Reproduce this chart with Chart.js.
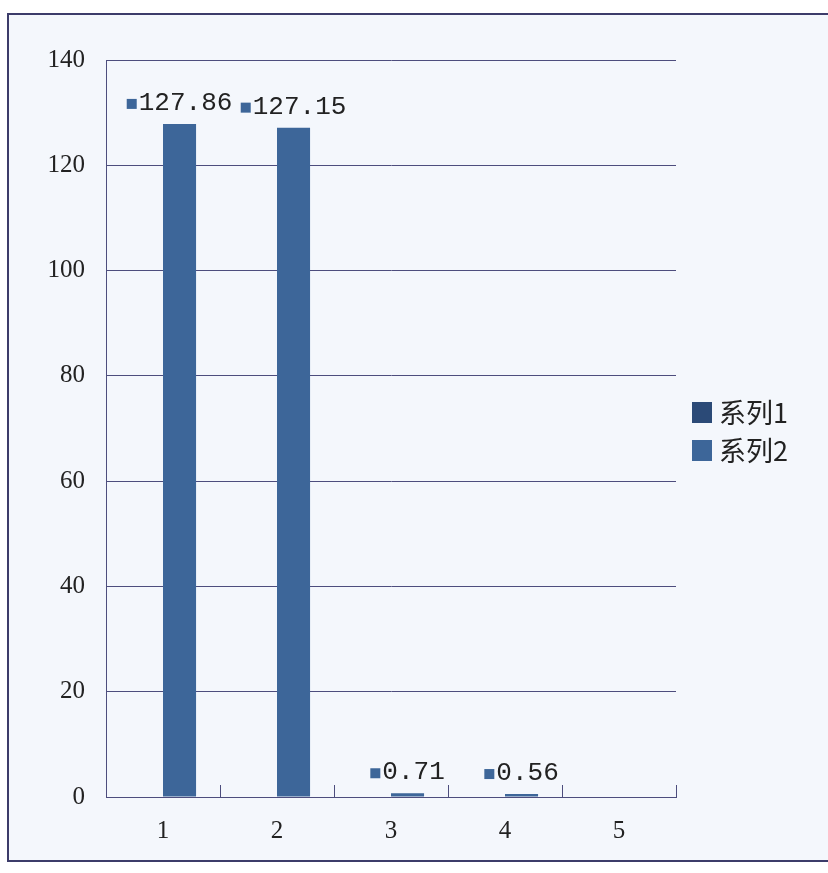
<!DOCTYPE html>
<html>
<head>
<meta charset="utf-8">
<script src="https://cdn.jsdelivr.net/npm/chart.js@4"></script>
<style>
  body { margin: 0; background: #ffffff; width: 828px; height: 873px; overflow: hidden; position: relative; }
  #frame { position: absolute; left: 7px; top: 13px; width: 840px; height: 845px; border: 2px solid #3c3c6a; background: #f4f7fc; }
  #c { position: absolute; left: 0; top: 0; }
  #legend { position: absolute; left: 692px; top: 393px; font-family: "Noto Sans CJK SC", sans-serif; font-size: 27px; color: #222; line-height: 38px; }
  #legend div { display: flex; align-items: center; }
  #legend span.box { display: inline-block; width: 20px; height: 21px; margin-right: 7px; }
</style>
</head>
<body>
<div id="frame"></div>
<canvas id="c" width="828" height="873"></canvas>
<div id="legend"></div>
<script>
const categories = ["1", "2", "3", "4", "5"];
const series1 = [0, 0, 0, 0, 0];
const series2 = [127.86, 127.15, 0.71, 0.56, null];
const seriesNames = ["系列1", "系列2"];
const seriesColors = ["#2b4a77", "#3d6699"];
const yTicks = [0, 20, 40, 60, 80, 100, 120, 140];

const lineColor = "#4d4d7d";

// value labels with a small key square, like the Excel ones
const valueLabels = {
  id: "valueLabels",
  afterDatasetsDraw(chart) {
    const ctx = chart.ctx;
    const meta = chart.getDatasetMeta(1);
    ctx.save();
    ctx.font = "26px 'Liberation Mono', monospace";
    ctx.textBaseline = "middle";
    meta.data.forEach((bar, i) => {
      const v = series2[i];
      if (!v) return;
      const txt = v.toFixed(2);
      const tw = ctx.measureText(txt).width;
      const sq = 10, gap = 2;
      const total = sq + gap + tw;
      const x0 = bar.x - total / 2;
      const y = bar.y - 21;
      ctx.fillStyle = seriesColors[1];
      ctx.fillRect(x0, y - 4, sq, sq);
      ctx.fillStyle = "#222";
      ctx.textAlign = "left";
      ctx.fillText(txt, x0 + sq + gap, y);
    });
    ctx.restore();
  }
};

// small upward tick marks between categories
const catTicks = {
  id: "catTicks",
  afterDraw(chart) {
    const xs = chart.scales.x, ctx = chart.ctx;
    const w = xs.getPixelForValue(1) - xs.getPixelForValue(0);
    ctx.save();
    ctx.strokeStyle = lineColor;
    ctx.lineWidth = 1;
    for (let i = 0; i < categories.length; i++) {
      const x = Math.round(xs.getPixelForValue(i) + w / 2) + 0.5;
      ctx.beginPath();
      ctx.moveTo(x, xs.top);
      ctx.lineTo(x, xs.top - 12);
      ctx.stroke();
    }
    ctx.restore();
  }
};

new Chart(document.getElementById("c"), {
  type: "bar",
  data: {
    labels: categories,
    datasets: [
      { label: seriesNames[0], data: series1, backgroundColor: seriesColors[0] },
      { label: seriesNames[1], data: series2, backgroundColor: seriesColors[1] }
    ]
  },
  options: {
    responsive: false,
    devicePixelRatio: 1,
    animation: false,
    layout: { padding: { left: 0, top: 60, right: 152, bottom: 0 } },
    datasets: { bar: { categoryPercentage: 0.58, barPercentage: 1.0 } },
    plugins: { legend: { display: false }, tooltip: { enabled: false } },
    scales: {
      x: {
        offset: true,
        grid: { display: false, drawTicks: false },
        border: { color: lineColor, width: 1 },
        ticks: { color: "#222", padding: 19, font: { family: "'Liberation Serif', serif", size: 25 } },
        afterFit(s) { s.height = 76; }
      },
      y: {
        min: 0, max: 140,
        afterBuildTicks(s) { s.ticks = yTicks.map(v => ({ value: v })); },
        grid: { color: lineColor, lineWidth: 1, drawTicks: false },
        border: { color: lineColor, width: 1 },
        ticks: { color: "#222", padding: 21, font: { family: "'Liberation Serif', serif", size: 25 } },
        afterFit(s) { s.width = 106; }
      }
    }
  },
  plugins: [valueLabels, catTicks]
});

const lg = document.getElementById("legend");
seriesNames.forEach((n, i) => {
  const row = document.createElement("div");
  row.innerHTML = '<span class="box" style="background:' + seriesColors[i] + '"></span>' + n;
  lg.appendChild(row);
});
</script>
</body>
</html>
